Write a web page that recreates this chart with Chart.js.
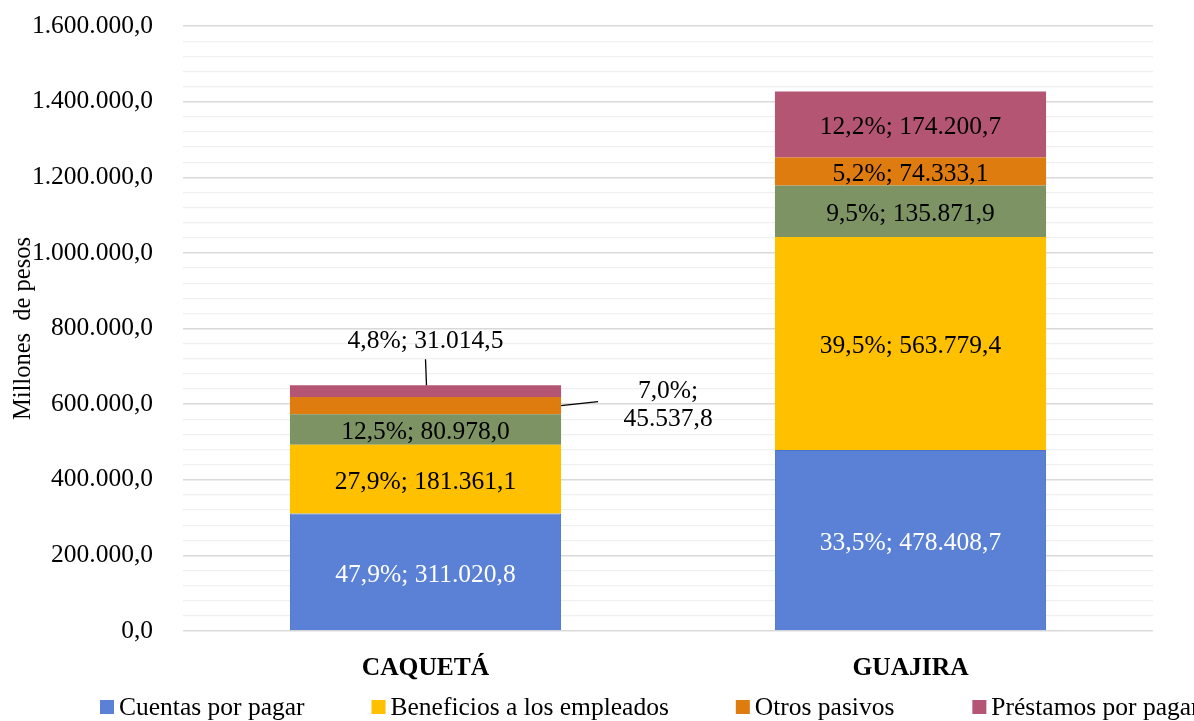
<!DOCTYPE html>
<html>
<head>
<meta charset="utf-8">
<script src="https://cdn.jsdelivr.net/npm/chart.js@4.4.0/dist/chart.umd.min.js"></script>
<style>
html,body{margin:0;padding:0;background:#fff;}
#wrap{width:1194px;height:721px;position:relative;}
</style>
</head>
<body>
<div id="wrap"><canvas id="c" width="1194" height="721"></canvas></div>
<script>
// ---- data ----
const categories = ['CAQUETÁ', 'GUAJIRA'];
const cuentasPorPagar = [311020.8, 478408.7];
const cuentasPct = [47.9, 33.5];
const beneficiosEmpleados = [181361.1, 563779.4];
const beneficiosPct = [27.9, 39.5];
const provisiones = [80978.0, 135871.9];
const provisionesPct = [12.5, 9.5];
const otrosPasivos = [45537.8, 74333.1];
const otrosPct = [7.0, 5.2];
const prestamosPorPagar = [31014.5, 174200.7];
const prestamosPct = [4.8, 12.2];
const yTickMax = 1600000;
const yMajorStep = 200000;
const yMinorStep = 40000;

const FONT = "'Liberation Serif', 'Times New Roman', serif";
const FS = 25.5;

function fmt(v, d) {
  const neg = v < 0; v = Math.abs(v);
  const s = v.toFixed(d);
  let [ip, dp] = s.split('.');
  ip = ip.replace(/\B(?=(\d{3})+(?!\d))/g, '.');
  return (neg ? '-' : '') + ip + (dp !== undefined ? ',' + dp : '');
}

const datasets = [
  {label: 'Cuentas por pagar', data: cuentasPorPagar, pct: cuentasPct, backgroundColor: '#5a81d6', borderColor: '#4a74cc', borderWidth: 1, textColor: '#ffffff', legend: true, legendGap: 67},
  {label: 'Beneficios a los empleados', data: beneficiosEmpleados, pct: beneficiosPct, backgroundColor: '#ffc000', textColor: '#000000', legend: true, legendGap: 67},
  {label: 'Provisiones', data: provisiones, pct: provisionesPct, backgroundColor: '#7d9363', textColor: '#000000', legend: false},
  {label: 'Otros pasivos', data: otrosPasivos, pct: otrosPct, backgroundColor: '#df7c10', textColor: '#000000', legend: true, legendGap: 78},
  {label: 'Préstamos por pagar', data: prestamosPorPagar, pct: prestamosPct, backgroundColor: '#b45573', textColor: '#000000', legend: true, legendGap: 0}
];
datasets.forEach(d => { d.barPercentage = 0.559; d.categoryPercentage = 1.0; d.borderSkipped = 'start'; });

// outside-label rules (dataset index, category index)
const outside = {
  '4-0': {mode: 'above'},
  '3-0': {mode: 'right'}
};

const labelsPlugin = {
  id: 'barLabels',
  afterDatasetsDraw(chart) {
    const ctx = chart.ctx;
    ctx.save();
    ctx.font = FS + 'px ' + FONT;
    ctx.textAlign = 'center';
    ctx.textBaseline = 'middle';
    chart.data.datasets.forEach((ds, di) => {
      const meta = chart.getDatasetMeta(di);
      meta.data.forEach((bar, i) => {
        const txt = fmt(ds.pct[i], 1) + '%; ' + fmt(ds.data[i], 1);
        const key = di + '-' + i;
        const top = Math.min(bar.y, bar.base), bot = Math.max(bar.y, bar.base);
        const cy = (top + bot) / 2;
        if (outside[key] && outside[key].mode === 'above') {
          ctx.strokeStyle = '#000'; ctx.lineWidth = 1.3;
          ctx.beginPath(); ctx.moveTo(bar.x + 1, top); ctx.lineTo(bar.x, top - 26); ctx.stroke();
          ctx.fillStyle = '#000';
          ctx.fillText(txt, bar.x, top - 44);
        } else if (outside[key] && outside[key].mode === 'right') {
          const rx = bar.x + bar.width / 2;
          ctx.strokeStyle = '#000'; ctx.lineWidth = 1.3;
          ctx.beginPath(); ctx.moveTo(rx, cy); ctx.lineTo(rx + 37, cy - 4); ctx.stroke();
          ctx.fillStyle = '#000';
          ctx.fillText(fmt(ds.pct[i], 1) + '%;', rx + 107, cy - 14);
          ctx.fillText(fmt(ds.data[i], 1), rx + 107, cy + 14);
        } else {
          ctx.fillStyle = ds.textColor;
          ctx.fillText(txt, bar.x, cy + 3);
        }
      });
    });
    ctx.restore();
  }
};

const legendPlugin = {
  id: 'customLegend',
  afterDraw(chart) {
    const ctx = chart.ctx;
    ctx.save();
    ctx.font = FS + 'px ' + FONT;
    ctx.textBaseline = 'middle';
    ctx.textAlign = 'left';
    let x = 100;
    const y = 707;
    chart.data.datasets.forEach(ds => {
      if (!ds.legend) return;
      ctx.fillStyle = ds.backgroundColor;
      ctx.fillRect(x, y - 7, 14, 14);
      ctx.fillStyle = '#000';
      ctx.fillText(ds.label, x + 19, y + 1);
      x += 19 + ctx.measureText(ds.label).width + ds.legendGap;
    });
    ctx.restore();
  }
};

new Chart(document.getElementById('c'), {
  type: 'bar',
  data: {labels: categories, datasets: datasets},
  options: {
    responsive: false,
    animation: false,
    layout: {padding: {left: 0, right: 41, top: 26, bottom: 30}},
    plugins: {legend: {display: false}, tooltip: {enabled: false}},
    scales: {
      x: {
        stacked: true,
        grid: {display: false},
        border: {display: false},
        ticks: {color: '#000', font: {family: FONT, size: FS, weight: 'bold'}, padding: 14},
        afterFit(s) { s.height = 60; }
      },
      y: {
        stacked: true,
        min: 0, max: yTickMax,
        border: {display: false},
        grid: {
          drawTicks: true,
          tickLength: 30,
          tickColor: 'rgba(0,0,0,0)',
          color: c => (c.tick && c.tick.value % yMajorStep === 0) ? '#d9d9d9' : '#f0f0f0',
          lineWidth: c => (c.tick && c.tick.value % yMajorStep === 0) ? 1.5 : 1.2
        },
        ticks: {
          stepSize: yMinorStep, autoSkip: false, padding: 0, color: '#000',
          font: {family: FONT, size: FS},
          callback: v => (v % yMajorStep === 0) ? fmt(v, 1) : ''
        },
        title: {display: true, text: 'Millones  de pesos', color: '#000', font: {family: FONT, size: 24.5}, padding: {top: 9, bottom: 0}},
        afterFit(s) { s.width = 183; }
      }
    }
  },
  plugins: [labelsPlugin, legendPlugin]
});
</script>
</body>
</html>
